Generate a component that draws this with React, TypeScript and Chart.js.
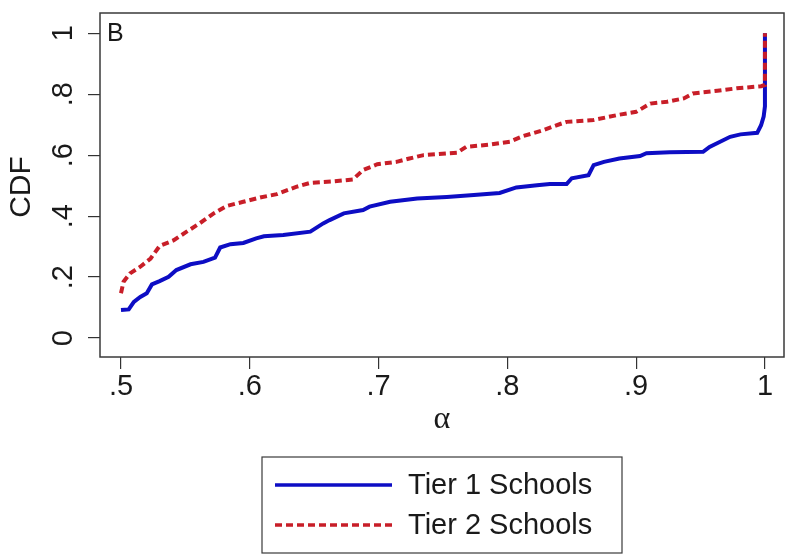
import { useEffect, useRef } from "react";
import { Chart, registerables } from "chart.js";

Chart.register(...registerables);

// Tier 1 schools (solid blue)
const tier1Alpha = [
  0.5, 0.506, 0.51, 0.515, 0.52, 0.524, 0.53, 0.537, 0.543, 0.554, 0.564, 0.573, 0.577, 0.585, 0.595, 0.605, 0.611,
  0.626, 0.647, 0.657, 0.662, 0.673, 0.688, 0.693, 0.709, 0.73, 0.753, 0.774, 0.794, 0.807, 0.823, 0.833, 0.846, 0.85,
  0.863, 0.867, 0.875, 0.887, 0.903, 0.908, 0.926, 0.952, 0.957, 0.973, 0.981, 0.994, 0.997, 0.999, 1.0, 1.0,
];
const tier1Cdf = [
  0.092, 0.094, 0.119, 0.135, 0.147, 0.176, 0.187, 0.201, 0.223, 0.242, 0.25, 0.264, 0.297, 0.308, 0.312, 0.327, 0.334,
  0.338, 0.349, 0.376, 0.387, 0.409, 0.42, 0.431, 0.447, 0.458, 0.463, 0.469, 0.476, 0.494, 0.501, 0.505, 0.505, 0.524,
  0.534, 0.567, 0.578, 0.589, 0.597, 0.606, 0.609, 0.611, 0.627, 0.66, 0.668, 0.673, 0.698, 0.726, 0.76, 1.0,
];

// Tier 2 schools (dashed red)
const tier2Alpha = [
  0.5, 0.502, 0.507, 0.515, 0.523, 0.53, 0.541, 0.551, 0.561, 0.572, 0.582, 0.595, 0.608, 0.621, 0.636, 0.647, 0.665,
  0.68, 0.688, 0.699, 0.714, 0.724, 0.735, 0.761, 0.768, 0.787, 0.802, 0.812, 0.828, 0.841, 0.846, 0.867, 0.885, 0.9,
  0.911, 0.924, 0.937, 0.944, 0.963, 0.978, 0.997, 1.0, 1.0,
];
const tier2Cdf = [
  0.147, 0.185, 0.212, 0.234, 0.261, 0.302, 0.321, 0.349, 0.376, 0.409, 0.433, 0.447, 0.461, 0.472, 0.496, 0.509,
  0.514, 0.52, 0.551, 0.57, 0.578, 0.589, 0.6, 0.608, 0.627, 0.635, 0.644, 0.662, 0.682, 0.702, 0.709, 0.715, 0.731,
  0.742, 0.769, 0.775, 0.786, 0.802, 0.811, 0.819, 0.826, 0.83, 1.0,
];

const xTicks = [0.5, 0.6, 0.7, 0.8, 0.9, 1];
const yTicks = [0, 0.2, 0.4, 0.6, 0.8, 1];
const seriesLabels = ["Tier 1 Schools", "Tier 2 Schools"];

const BLUE = "#0d0dc4";
const RED = "#c81e28";
const DASH = [7, 4];
const SANS = '"Liberation Sans", Arial, sans-serif';

const fmt = (v: number) => (v === 0 || v === 1 ? String(v) : String(v).replace(/^0/, ""));

const decorPlugin = {
  id: "decor",
  beforeDatasetsDraw(chart: Chart) {
    const { ctx, chartArea } = chart;
    ctx.save();
    ctx.strokeStyle = "#3a3a3a";
    ctx.lineWidth = 1.5;
    ctx.strokeRect(chartArea.left, chartArea.top, chartArea.right - chartArea.left, chartArea.bottom - chartArea.top);
    ctx.restore();
  },
  afterDraw(chart: Chart) {
    const { ctx, chartArea } = chart;
    const yScale = chart.scales.y;
    ctx.save();
    ctx.fillStyle = "#1a1a1a";

    // rotated y tick labels
    ctx.font = `29px ${SANS}`;
    ctx.textAlign = "center";
    ctx.textBaseline = "alphabetic";
    yTicks.forEach((v) => {
      const py = yScale.getPixelForValue(v);
      ctx.save();
      ctx.translate(72, py);
      ctx.rotate(-Math.PI / 2);
      ctx.fillText(fmt(v), 0, 0);
      ctx.restore();
    });

    // y title
    ctx.save();
    ctx.font = `30px ${SANS}`;
    ctx.translate(30, (chartArea.top + chartArea.bottom) / 2 + 2);
    ctx.rotate(-Math.PI / 2);
    ctx.fillText("CDF", 0, 0);
    ctx.restore();

    // x title
    ctx.font = `32px "Liberation Serif", serif`;
    ctx.fillText("α", (chartArea.left + chartArea.right) / 2, 428);

    // panel letter
    ctx.font = `25px ${SANS}`;
    ctx.textAlign = "left";
    ctx.fillText("B", 107, 41);

    // legend
    const lx = 262;
    const ly = 457;
    ctx.strokeStyle = "#3a3a3a";
    ctx.lineWidth = 1.2;
    ctx.strokeRect(lx, ly, 360, 96);
    ctx.font = `29px ${SANS}`;
    ctx.textBaseline = "middle";
    const rows = [
      { y: 485, color: BLUE, dash: [] as number[] },
      { y: 525, color: RED, dash: DASH },
    ];
    rows.forEach((r, i) => {
      ctx.strokeStyle = r.color;
      ctx.lineWidth = 3.5;
      ctx.setLineDash(r.dash);
      ctx.beginPath();
      ctx.moveTo(275, r.y);
      ctx.lineTo(392, r.y);
      ctx.stroke();
      ctx.setLineDash([]);
      ctx.fillText(seriesLabels[i], 408, r.y + 1);
    });
    ctx.restore();
  },
};

export default function App() {
  const chartRef = useRef<HTMLCanvasElement | null>(null);

  useEffect(() => {
    document.body.style.margin = "0";
    const canvas = chartRef.current;
    if (!canvas) return;

    const chart = new Chart(canvas, {
      type: "line",
      data: {
        datasets: [
          {
            label: seriesLabels[1],
            data: tier2Alpha.map((a, i) => ({ x: a, y: tier2Cdf[i] })),
            borderColor: RED,
            borderWidth: 4,
            borderDash: DASH,
            pointRadius: 0,
            tension: 0,
            fill: false,
            order: 0,
          },
          {
            label: seriesLabels[0],
            data: tier1Alpha.map((a, i) => ({ x: a, y: tier1Cdf[i] })),
            borderColor: BLUE,
            borderWidth: 4,
            pointRadius: 0,
            tension: 0,
            fill: false,
            order: 1,
          },
        ],
      },
      options: {
        animation: false,
        responsive: true,
        maintainAspectRatio: false,
        layout: { padding: { top: 13, right: 9, left: 0, bottom: 0 } },
        plugins: {
          legend: { display: false },
          tooltip: { enabled: false },
        },
        scales: {
          x: {
            type: "linear",
            min: 0.4837,
            max: 1.0148,
            afterBuildTicks: (scale) => {
              scale.ticks = xTicks.map((v) => ({ value: v }));
            },
            afterFit: (scale) => {
              scale.height = 198;
            },
            border: { display: false },
            grid: { drawOnChartArea: false, tickLength: 12, color: "#333", lineWidth: 1.2 },
            ticks: {
              autoSkip: false,
              maxRotation: 0,
              padding: 1,
              color: "#1a1a1a",
              font: { family: SANS, size: 29 },
              callback: (v) => fmt(Number(v)),
            },
          },
          y: {
            type: "linear",
            min: -0.062,
            max: 1.066,
            afterBuildTicks: (scale) => {
              scale.ticks = yTicks.map((v) => ({ value: v }));
            },
            afterFit: (scale) => {
              scale.width = 100;
            },
            border: { display: false },
            grid: { drawOnChartArea: false, tickLength: 12, color: "#333", lineWidth: 1.2 },
            ticks: { display: false },
          },
        },
      },
      plugins: [decorPlugin],
    });

    return () => {
      chart.destroy();
    };
  }, []);

  return (
    <div style={{ position: "relative", width: 793, height: 555, background: "#fff" }}>
      <canvas ref={chartRef} />
    </div>
  );
}
